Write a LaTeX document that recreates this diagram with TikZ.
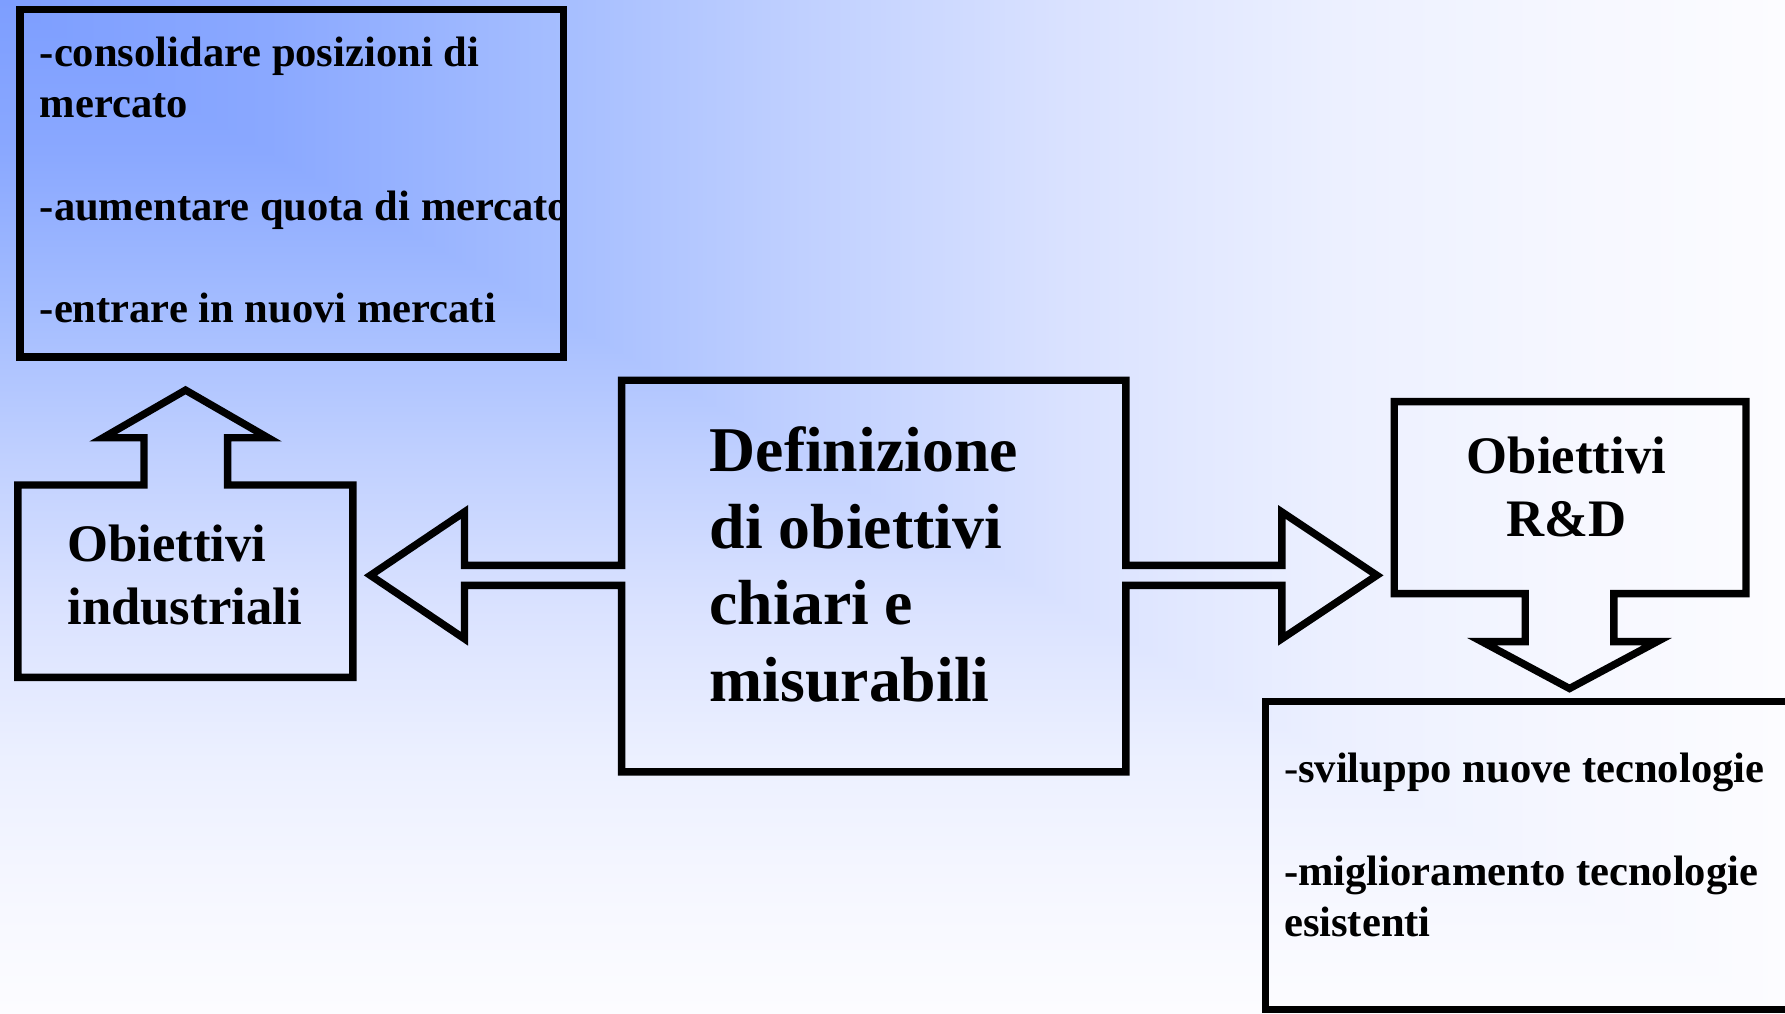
\documentclass[tikz,border=0pt]{standalone}
\usepackage{fontspec}
\setmainfont{Liberation Serif}
\definecolor{g0}{HTML}{7D9EFF}
\definecolor{g15}{HTML}{8AA8FF}
\definecolor{g30}{HTML}{A3BCFF}
\definecolor{g45}{HTML}{C0D0FF}
\definecolor{g60}{HTML}{DAE2FF}
\definecolor{g75}{HTML}{ECF0FF}
\definecolor{g90}{HTML}{F7F8FF}
\definecolor{g100}{HTML}{FCFCFF}
\pgfdeclarehorizontalshading{bgh}{100bp}{color(0bp)=(g0); color(25bp)=(g0); color(32.5bp)=(g15); color(40bp)=(g30); color(47.5bp)=(g45); color(55bp)=(g60); color(62.5bp)=(g75); color(70bp)=(g90); color(75bp)=(g100); color(100bp)=(g100)}
\pgfdeclareverticalshading{bgv}{100bp}{color(0bp)=(g100); color(25bp)=(g100); color(30bp)=(g90); color(37.5bp)=(g75); color(45bp)=(g60); color(52.5bp)=(g45); color(60bp)=(g30); color(67.5bp)=(g15); color(75bp)=(g0); color(100bp)=(g0)}
\tikzset{
  outline/.style={draw=black, line width=3.25pt, line join=miter},
  smalltext/.style={font=\fontsize{18.7}{22.5}\selectfont\bfseries, align=left, inner sep=0pt, outer sep=0pt, anchor=base west},
  midtext/.style={font=\fontsize{23.15}{27.8}\selectfont\bfseries, align=left, inner sep=0pt, outer sep=0pt, anchor=base west},
  bigtext/.style={font=\fontsize{28}{33.7}\selectfont\bfseries, align=left, inner sep=0pt, outer sep=0pt, anchor=base west}
}
\begin{document}
\begin{tikzpicture}[x=0.5pt,y=-0.5pt]
\clip (0,0) rectangle (1568,890);
% background: corner gradient
\shade[shading=bgv] (0,0) rectangle (1568,890);
\shade[shading=bgh] (0,0) -- (1568,0) -- (1568,890) -- cycle;

% top-left list box
\draw[outline] (17.5,8.5) rectangle (494.8,313.6);
% Obiettivi industriali box with up arrow
\draw[outline] (15.7,426) -- (126.5,426) -- (126.5,384.5) -- (90.6,384.5) -- (163,342.7)
  -- (235.4,384.5) -- (200,384.5) -- (200,426) -- (310,426) -- (310,595) -- (15.7,595) -- cycle;
% central box with two block arrows
\draw[outline] (546,334) -- (989,334) -- (989,496.6) -- (1126,496.6) -- (1126,449.7)
  -- (1209.5,505.4) -- (1126,561.1) -- (1126,514.2) -- (989,514.2) -- (989,678)
  -- (546,678) -- (546,514.2) -- (408,514.2) -- (408,561.1) -- (325.4,505.4)
  -- (408,449.7) -- (408,496.6) -- (546,496.6) -- cycle;
% R&D box with down arrow
\draw[outline] (1224.7,352.8) -- (1533.7,352.8) -- (1533.7,521.5) -- (1417.6,521.5)
  -- (1417.6,563.6) -- (1455.7,563.6) -- (1378.7,604.8) -- (1301.7,563.6)
  -- (1339.8,563.6) -- (1339.8,521.5) -- (1224.7,521.5) -- cycle;
% bottom-right list box
\draw[outline] (1111.8,616.3) rectangle (1620,886.5);

% texts (anchored at the baseline of their last line)
\node[smalltext] (tl) at (35,283.5) {-consolidare posizioni di\\ mercato\\[22.5pt] -aumentare quota di mercato\\[22.5pt] -entrare in nuovi mercati};
\node[midtext] (ind) at (59.2,549) {Obiettivi\\ industriali};
\node[bigtext] (def) at (623.4,616.4) {Definizione\\ di obiettivi\\ chiari e\\ misurabili};
\node[midtext, align=center, anchor=base] (rd) at (1376,471.4) {Obiettivi\\ R\&D};
\node[smalltext] (br) at (1128,822.4) {{\mdseries -}sviluppo nuove tecnologie\\[22.5pt] -miglioramento tecnologie\\ esistenti};
\end{tikzpicture}
\end{document}
